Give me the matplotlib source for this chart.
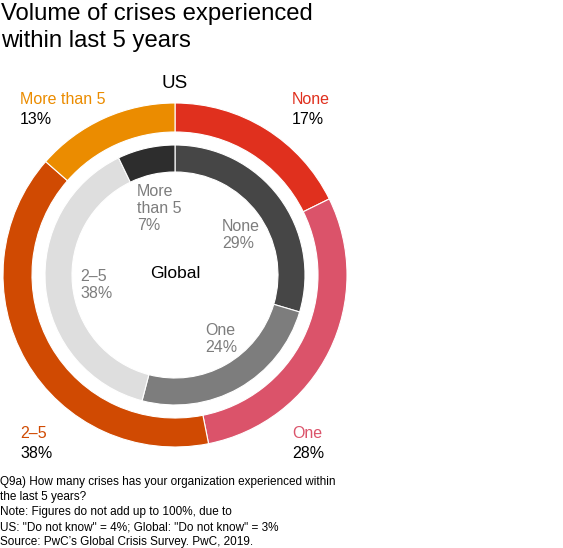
import matplotlib.pyplot as plt

# ---- data ----
categories = ['None', 'One', '2–5', 'More than 5']
us_values = [17, 28, 38, 13]
global_values = [29, 24, 38, 7]

us_colors = ['#E0301E', '#DB536A', '#D04A02', '#EB8C00']
global_colors = ['#464646', '#7D7D7D', '#DEDEDE', '#2D2D2D']
label_grey = '#7D7D7D'

plt.rcParams['font.family'] = ['Liberation Sans', 'DejaVu Sans']

W, H = 563, 548
fig = plt.figure(figsize=(W / 100, H / 100), dpi=100)
ax = fig.add_axes([0, 0, 1, 1])

def py(y):
    # pixel row from top -> data y
    return H - y

cx, cy = 175, py(275)

# outer ring: US
ax.pie(us_values, colors=us_colors, radius=172, center=(cx, cy),
       startangle=90, counterclock=False, frame=True,
       wedgeprops=dict(width=29, edgecolor='white', linewidth=0.8))
# inner ring: Global
ax.pie(global_values, colors=global_colors, radius=130, center=(cx, cy),
       startangle=90, counterclock=False, frame=True,
       wedgeprops=dict(width=27, edgecolor='white', linewidth=0.8))
ax.set_xlim(0, W)
ax.set_ylim(0, H)
ax.set_aspect('equal')
ax.axis('off')

# ---- title ----
ax.text(1, py(14), 'Volume of crises experienced', fontsize=17.2, va='center', ha='left')
ax.text(1, py(41), 'within last 5 years', fontsize=17.2, va='center', ha='left')

ax.text(cx, py(84), 'US', fontsize=13.5, ha='center', va='center')
ax.text(cx, py(274), 'Global', fontsize=12.5, ha='center', va='center')

# ---- outer labels ----
fs = 11.5
outer_pos = [(292, 100), (292, 434), (20, 434), (20, 100)]
for (x, y), cat, v, col in zip(outer_pos, categories, us_values, us_colors):
    ax.text(x, py(y), cat, color=col, fontsize=fs, va='center', ha='left')
    ax.text(x, py(y + 19), f'{v}%', color='black', fontsize=fs, va='center', ha='left')

# ---- inner labels ----
inner_pos = [(222, 227), (205, 331), (80, 277), (137, 192)]
inner_names = ['None', 'One', '2–5', 'More\nthan 5']
for (x, y), cat, v in zip(inner_pos, inner_names, global_values):
    ax.text(x, py(y - 8), f'{cat}\n{v}%', color=label_grey, fontsize=fs,
            va='top', ha='left', linespacing=1.15)

# ---- footnote ----
notes = ['Q9a) How many crises has your organization experienced within',
         'the last 5 years?',
         'Note: Figures do not add up to 100%, due to',
         'US: "Do not know" = 4%; Global: "Do not know" = 3%',
         'Source: PwC\u2019s Global Crisis Survey. PwC, 2019.']
for i, line in enumerate(notes):
    ax.text(0, py(482 + i * 15), line, fontsize=8.45, va='center', ha='left')

fig.savefig('out.png', dpi=100)
